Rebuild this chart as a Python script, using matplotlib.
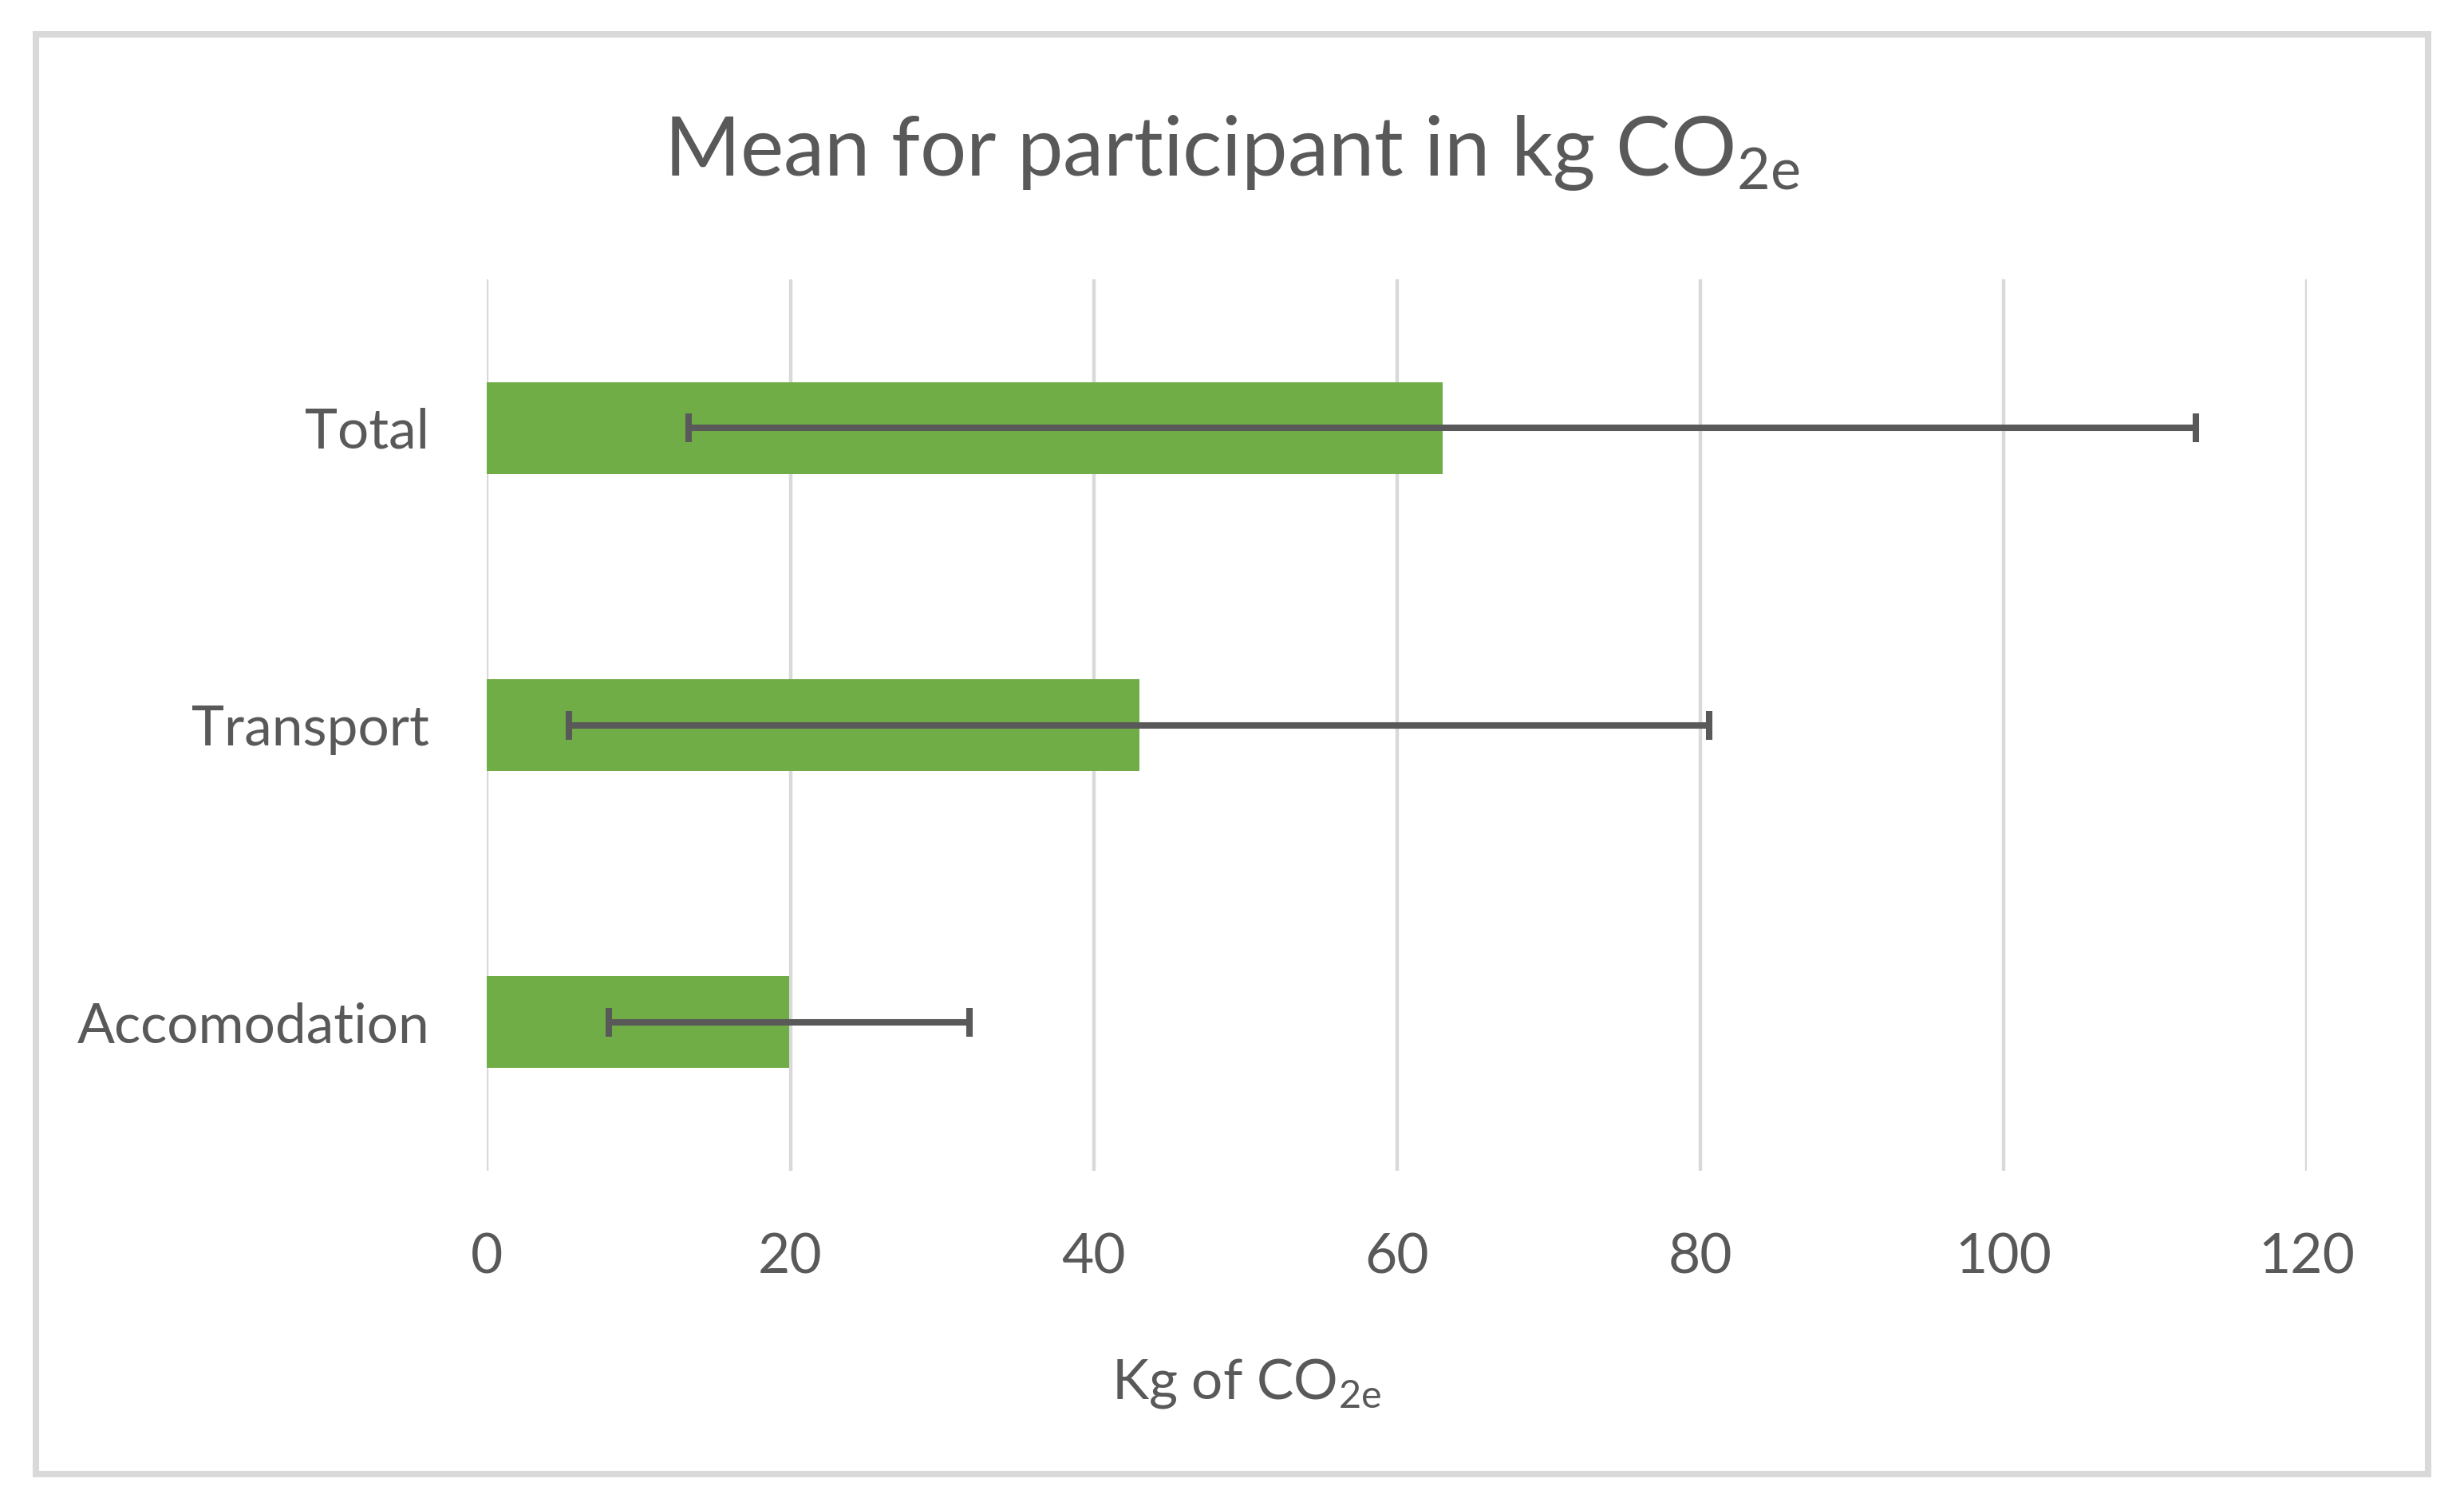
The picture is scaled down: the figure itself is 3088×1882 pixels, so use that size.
import matplotlib
matplotlib.use("Agg")
import matplotlib.pyplot as plt
from matplotlib.patches import Rectangle

# data
categories = ["Accomodation", "Transport", "Total"]
means = [19.9, 43.0, 63.0]
errors = [11.9, 37.6, 49.7]
xticks = [0, 20, 40, 60, 80, 100, 120]

plt.rcParams["font.family"] = ["Lato", "DejaVu Sans"]
plt.rcParams["mathtext.fontset"] = "custom"
plt.rcParams["mathtext.rm"] = "Lato"

text_col = "#595959"
grid_col = "#d9d9d9"
bar_col = "#70ad47"

fig = plt.figure(figsize=(30.88, 18.82), dpi=100)
ax = fig.add_axes([0.1977, 0.2207, 0.9362 - 0.1977, 0.8138 - 0.2207])

ypos = list(range(len(categories)))
ax.barh(ypos, means, height=0.31, color=bar_col, zorder=2)
ax.errorbar(means, ypos, xerr=errors, fmt="none", ecolor=text_col,
            elinewidth=5.8, capsize=13, capthick=5.8, zorder=3)

ax.set_xlim(0, 120)
ax.set_ylim(-0.5, 2.5)
ax.set_xticks(xticks)
ax.set_yticks(ypos)
ax.set_yticklabels(categories)
ax.tick_params(axis="both", length=0, labelsize=50, labelcolor=text_col)
ax.tick_params(axis="y", pad=52)
ax.tick_params(axis="x", pad=56)
ax.grid(axis="x", color=grid_col, linewidth=3.2, zorder=0)
ax.set_axisbelow(True)
for s in ax.spines.values():
    s.set_visible(False)

fig.text(0.5, 0.883, r"Mean for participant in kg CO$_\mathregular{2e}$",
         ha="center", va="baseline", fontsize=74, color=text_col)
fig.text(0.506, 0.069, r"Kg of CO$_\mathregular{2e}$",
         ha="center", va="baseline", fontsize=50, color=text_col)

border = Rectangle((0.0145, 0.0188), 0.9853 - 0.0145, 0.977 - 0.0188,
                   transform=fig.transFigure, fill=False,
                   edgecolor=grid_col, linewidth=5.8)
fig.patches.append(border)

fig.savefig("out.png", dpi=100, facecolor="white")
